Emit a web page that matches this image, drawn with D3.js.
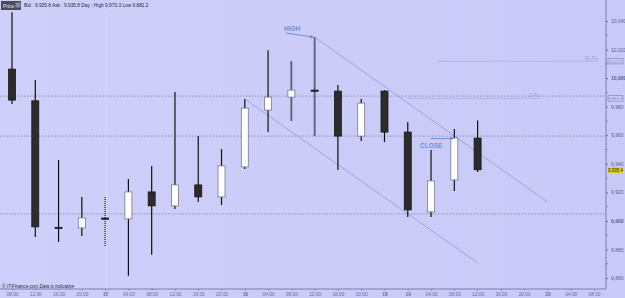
<!DOCTYPE html>
<html>
<head>
<meta charset="utf-8">
<script src="https://cdn.jsdelivr.net/npm/d3@7"></script>
<style>
  body { margin: 0; background: #cbcbf9; }
  svg { display: block; font-family: "Liberation Sans", "DejaVu Sans", sans-serif; }
</style>
</head>
<body>
<div id="vis"></div>
<script>
// frame constants
const FRAME_WIDTH = 625;
const FRAME_HEIGHT = 298;
const PLOT = {left: 0, right: 606, top: 0, bottom: 289};

// x axis labels, one slot per 4 hour candle
const TIME_LABELS = ["08:00", "12:00", "16:00", "20:00", "15", "04:00", "08:00", "12:00", "16:00",
  "20:00", "16", "04:00", "08:00", "12:00", "16:00", "20:00", "18", "19", "04:00", "08:00",
  "12:00", "16:00", "20:00", "20", "04:00", "08:00"];
const DAY_LABELS = ["15", "16", "18", "19", "20"];

// candle values
const OPEN  = [10006.3, 9984.1, 9895.5, 9895.1, 9902.0, 9901.4, 9920.3, 9910.5, 9925.2, 9916.8, 9937.8,
  9977.6, 9986.7, 9991.6, 9990.9, 9959.4, 9990.9, 9962.2, 9906.3, 9928.7, 9958.0];
const HIGH  = [10046.2, 9998.6, 9942.7, 9916.8, 9916.8, 9929.4, 9938.5, 9990.2, 9959.4, 9950.3, 9985.3,
  10019.6, 10011.9, 10028.7, 9995.1, 9985.3, 9991.6, 9969.2, 9949.7, 9964.3, 9970.3];
const LOW   = [9981.8, 9888.8, 9885.3, 9889.5, 9881.8, 9861.5, 9876.2, 9908.4, 9913.3, 9911.2, 9936.4,
  9962.2, 9969.9, 9959.4, 9935.7, 9955.9, 9955.2, 9902.8, 9902.8, 9921.0, 9934.3];
const CLOSE = [9984.6, 9895.8, 9894.8, 9902.1, 9902.0, 9920.3, 9910.5, 9925.2, 9916.8, 9938.5, 9979.0,
  9986.7, 9991.6, 9991.4, 9959.4, 9982.5, 9962.2, 9907.7, 9928.0, 9958.0, 9935.8];

// right axis ticks
const Y_TICKS = [10040, 10020, 10000, 9980, 9960, 9940, 9920, 9900, 9880, 9860];

// horizontal dotted levels and pivot levels
const DOTTED_LEVELS = [9987.4, 9959.4, 9904.9];
const PIVOTS = [{label: "R1 Piv", value: 10011.9, from: 18.3, to: 25.2, box: "10,011"},
                {label: "S Piv", value: 9985.8, from: 17, to: 22.7, box: "9,985.8"}];

// trend channel (index, value)
const CHANNEL = [[[13, 10028.7], [23, 9913.3]], [[10, 9985.3], [20, 9870.6]]];

const LAST_PRICE = 9935.4;

const DOTTED_WICK = 4;
const GRAY_WICKS = [12, 13];

const X_SCALE = d3.scaleLinear().domain([0, 25]).range([12, 594]);
const Y_SCALE = d3.scaleLinear().domain([9860, 10040]).range([278, 21]);

const FRAME = d3.select("#vis")
  .append("svg")
  .attr("width", FRAME_WIDTH)
  .attr("height", FRAME_HEIGHT);

// background with a slight gradient
const defs = FRAME.append("defs");
const grad = defs.append("linearGradient").attr("id", "bg").attr("x1", 0).attr("x2", 1);
grad.append("stop").attr("offset", 0).attr("stop-color", "#cfcffb");
grad.append("stop").attr("offset", 1).attr("stop-color", "#c9c9f7");
FRAME.append("rect").attr("width", FRAME_WIDTH).attr("height", FRAME_HEIGHT).attr("fill", "url(#bg)");

// arrow marker
defs.append("marker").attr("id", "arrow").attr("viewBox", "0 0 10 10")
  .attr("refX", 9).attr("refY", 5).attr("markerWidth", 4).attr("markerHeight", 4)
  .attr("orient", "auto")
  .append("path").attr("d", "M0,0 L10,5 L0,10 z").attr("fill", "#6f8fd8");

// day separator
FRAME.append("line")
  .attr("x1", X_SCALE(4) + 1).attr("x2", X_SCALE(4) + 1)
  .attr("y1", PLOT.top + 10).attr("y2", PLOT.bottom)
  .attr("stroke", "#e4e4ff").attr("stroke-dasharray", "1,1");

// dotted levels
FRAME.selectAll(".lvl").data(DOTTED_LEVELS).enter().append("line")
  .attr("x1", PLOT.left).attr("x2", PLOT.right)
  .attr("y1", d => Y_SCALE(d)).attr("y2", d => Y_SCALE(d))
  .attr("stroke", "#8484a8").attr("stroke-width", 0.8).attr("stroke-dasharray", "1.5,1.5");

// pivot lines
FRAME.selectAll(".piv").data(PIVOTS).enter().append("line")
  .attr("x1", d => X_SCALE(d.from)).attr("x2", d => X_SCALE(d.to))
  .attr("y1", d => Y_SCALE(d.value)).attr("y2", d => Y_SCALE(d.value))
  .attr("stroke", "#a8acdc").attr("stroke-width", 0.8);
FRAME.selectAll(".pivt").data(PIVOTS).enter().append("text")
  .attr("x", d => X_SCALE(d.to) - 1).attr("y", d => Y_SCALE(d.value) - 1)
  .attr("text-anchor", "end").attr("font-size", 4.5).attr("fill", "#a0a4d4")
  .text(d => d.label);

// trend channel
FRAME.selectAll(".chan").data(CHANNEL).enter().append("line")
  .attr("x1", d => X_SCALE(d[0][0])).attr("y1", d => Y_SCALE(d[0][1]))
  .attr("x2", d => X_SCALE(d[1][0])).attr("y2", d => Y_SCALE(d[1][1]))
  .attr("stroke", "#8c9ed6").attr("stroke-width", 0.8);

// candles
const CANDLES = OPEN.map((o, i) => ({i: i, o: o, h: HIGH[i], l: LOW[i], c: CLOSE[i]}));

FRAME.selectAll(".wick").data(CANDLES).enter().append("line")
  .attr("x1", d => X_SCALE(d.i)).attr("x2", d => X_SCALE(d.i))
  .attr("y1", d => Y_SCALE(d.h)).attr("y2", d => Y_SCALE(d.l))
  .attr("stroke", d => GRAY_WICKS.includes(d.i) ? "#5c5c78" : "#111")
  .attr("stroke-width", d => GRAY_WICKS.includes(d.i) ? 1.8 : 1.2)
  .attr("stroke-dasharray", d => d.i === DOTTED_WICK ? "1,1" : null);

FRAME.selectAll(".body").data(CANDLES).enter().append("rect")
  .attr("x", d => X_SCALE(d.i) - 3.5)
  .attr("width", 7)
  .attr("y", d => Y_SCALE(Math.max(d.o, d.c)))
  .attr("height", d => Math.max(Math.abs(Y_SCALE(d.o) - Y_SCALE(d.c)), 1.2))
  .attr("fill", d => (d.c >= d.o && Math.abs(d.c - d.o) > 1) ? "#ffffff" : "#2c2c2c")
  .attr("stroke", d => (d.c >= d.o && Math.abs(d.c - d.o) > 1) ? "#7a7a8a" : "#1a1a1a")
  .attr("stroke-width", 0.8);

// annotations
FRAME.append("text").attr("x", 284).attr("y", 31)
  .attr("font-size", 6.5).attr("font-weight", "bold").attr("fill", "#6f8fd8").text("HIGH");
FRAME.append("line").attr("x1", 286).attr("y1", 33).attr("x2", X_SCALE(13) - 1).attr("y2", Y_SCALE(HIGH[13]))
  .attr("stroke", "#6f8fd8").attr("stroke-width", 1).attr("marker-end", "url(#arrow)");
FRAME.append("text").attr("x", 420).attr("y", 148)
  .attr("font-size", 6.5).attr("font-weight", "bold").attr("fill", "#6f8fd8").text("CLOSE");
FRAME.append("line").attr("x1", 431).attr("y1", Y_SCALE(CLOSE[19]) + 0.5).attr("x2", X_SCALE(19) - 1).attr("y2", Y_SCALE(CLOSE[19]) + 0.5)
  .attr("stroke", "#6f8fd8").attr("stroke-width", 1).attr("marker-end", "url(#arrow)");

// right axis
const yAxis = FRAME.append("g").attr("transform", "translate(" + PLOT.right + ",0)")
  .call(d3.axisRight(Y_SCALE).tickValues(Y_TICKS).tickSize(2).tickFormat(d3.format(",")));
yAxis.select(".domain").remove();
yAxis.selectAll("line").attr("stroke", "#6e6ea8");
yAxis.selectAll("text").attr("font-size", 5).attr("fill", "#5c5c9c")
  .attr("font-weight", d => (d === 10000 || d === 9900) ? "bold" : null);
// minor ticks
FRAME.selectAll(".minor").data(Y_TICKS.slice(1)).enter().append("line")
  .attr("x1", PLOT.right).attr("x2", PLOT.right + 1.5)
  .attr("y1", d => Y_SCALE(d + 10)).attr("y2", d => Y_SCALE(d + 10))
  .attr("stroke", "#6e6ea8");
FRAME.append("line").attr("x1", PLOT.right).attr("x2", PLOT.right)
  .attr("y1", PLOT.top).attr("y2", PLOT.bottom).attr("stroke", "#7c7cb0");

// price boxes on the axis
FRAME.selectAll(".pbox").data(PIVOTS).enter().append("rect")
  .attr("x", PLOT.right + 2).attr("y", d => Y_SCALE(d.value) - 2.8)
  .attr("width", 15).attr("height", 5.6).attr("fill", "#cbcbf9").attr("stroke", "#7c7cb0").attr("stroke-width", 0.6);
FRAME.selectAll(".ptxt").data(PIVOTS).enter().append("text")
  .attr("x", PLOT.right + 9.5).attr("y", d => Y_SCALE(d.value) + 1.6)
  .attr("text-anchor", "middle").attr("font-size", 4.2).attr("fill", "#8a8ac0").text(d => d.box);
FRAME.append("rect").attr("x", PLOT.right + 2).attr("y", Y_SCALE(LAST_PRICE) - 3)
  .attr("width", 15).attr("height", 6).attr("fill", "#e6cf1a");
FRAME.append("text").attr("x", PLOT.right + 9.5).attr("y", Y_SCALE(LAST_PRICE) + 1.7)
  .attr("text-anchor", "middle").attr("font-size", 4.5).attr("fill", "#222").text(d3.format(",.1f")(LAST_PRICE));

// bottom axis
FRAME.append("line").attr("x1", PLOT.left).attr("x2", PLOT.right)
  .attr("y1", PLOT.bottom).attr("y2", PLOT.bottom).attr("stroke", "#7c7cb0");
const xAxis = FRAME.append("g").attr("transform", "translate(0," + PLOT.bottom + ")")
  .call(d3.axisBottom(X_SCALE).tickValues(d3.range(TIME_LABELS.length)).tickSize(1.5)
    .tickFormat(i => TIME_LABELS[i]));
xAxis.select(".domain").remove();
xAxis.selectAll("line").attr("stroke", "#7c7cb0");
xAxis.selectAll("text").attr("font-size", 4.8).attr("fill", "#6a6aa6").attr("dy", "0.6em")
  .attr("font-weight", i => DAY_LABELS.includes(TIME_LABELS[i]) ? "bold" : null);

// header
FRAME.append("rect").attr("x", 1).attr("y", 1).attr("width", 20).attr("height", 9).attr("fill", "#4a4a5a");
FRAME.append("text").attr("x", 3).attr("y", 7.5).attr("font-size", 5).attr("fill", "#e8e8f0").text("Price");
FRAME.append("rect").attr("x", 15.5).attr("y", 2.5).attr("width", 5).attr("height", 5).attr("fill", "#8a8aa0");
FRAME.append("text").attr("x", 24).attr("y", 6.5).attr("font-size", 4.8).attr("fill", "#2a2a3a")
  .text("Bid : 9,935.8 Ask : 9,935.8  Day : High 9,970.3 Low 9,881.2");

// footer
FRAME.append("text").attr("x", 2).attr("y", 287.5).attr("font-size", 4.6).attr("font-style", "italic")
  .attr("fill", "#2a2a3a").text("© IT-Finance.com  Data is indicative");
</script>
</body>
</html>
